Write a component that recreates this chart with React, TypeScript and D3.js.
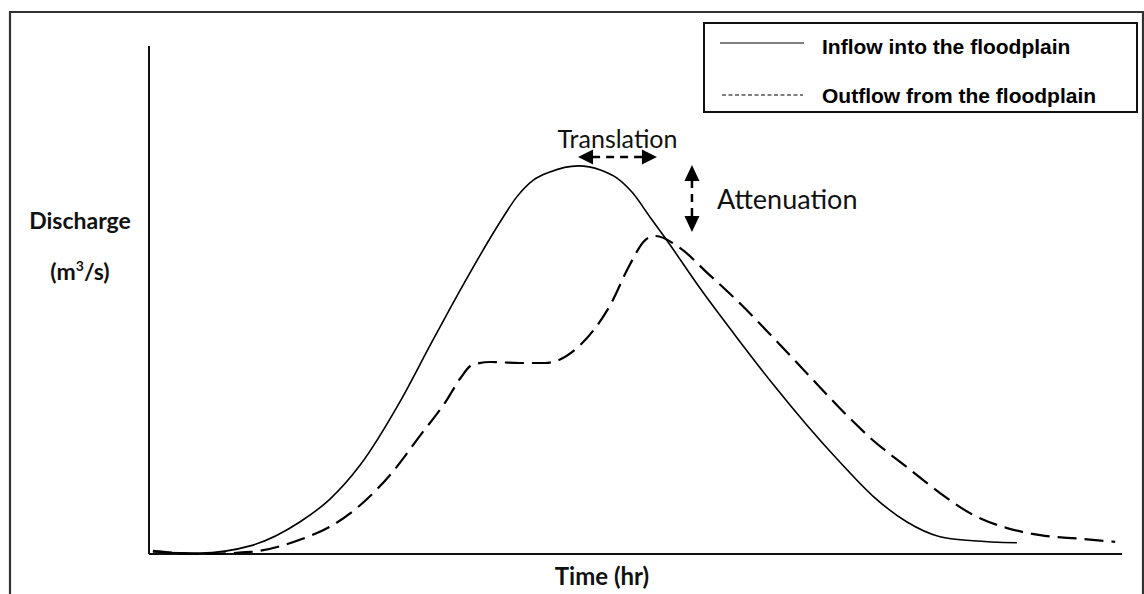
import React from 'react';
import * as d3 from 'd3';

// Inflow hydrograph (time in relative units, discharge in relative units)
const inflowTime = [0.4, 5.2, 10.4, 15.5, 18.6, 21.7, 25.8, 28.9, 32.0, 36.1, 37.8, 39.5, 41.2, 44.1, 46.4, 48.1, 49.7, 51.5, 53.2, 56.6, 60.7, 64.1, 67.6, 71.0, 74.4, 77.9, 81.3, 84.7, 89.2];
const inflowQ = [0.4, 0.2, 1.6, 6.3, 10.8, 17.5, 30.0, 41.1, 52.0, 65.4, 70.3, 73.6, 75.2, 76.4, 75.6, 74.0, 71.1, 66.3, 61.8, 52.4, 41.9, 33.5, 25.4, 18.1, 11.4, 6.3, 3.4, 2.6, 2.2];

// Outflow hydrograph
const outflowTime = [0.4, 5.2, 10.4, 15.5, 18.9, 21.7, 24.8, 27.9, 30.6, 32.0, 33.2, 35.1, 38.1, 40.7, 44.3, 47.4, 49.4, 51.0, 52.0, 54.6, 57.4, 60.7, 64.1, 67.6, 71.0, 74.4, 77.9, 81.3, 84.7, 88.2, 91.6, 95.7, 99.3];
const outflowQ = [0.6, 0.0, 0.4, 2.8, 5.7, 9.6, 15.6, 23.4, 30.3, 34.6, 37.2, 37.8, 37.6, 37.6, 41.1, 49.0, 56.9, 61.8, 62.6, 60.2, 55.3, 49.4, 42.7, 35.6, 28.7, 22.4, 17.1, 12.0, 7.7, 5.1, 3.7, 3.0, 2.4];

const legendLabels = ['Inflow into the floodplain', 'Outflow from the floodplain'];
const annotationLabels = ['Translation', 'Attenuation'];
const axisLabels = ['Discharge', 'Time (hr)'];

const W = 1144;
const H = 594;

function arrowHead(tx: number, ty: number, dir: 'left' | 'right' | 'up' | 'down', len = 15, half = 7.5) {
  let pts: [number, number][];
  if (dir === 'left') pts = [[tx, ty], [tx + len, ty - half], [tx + len, ty + half]];
  else if (dir === 'right') pts = [[tx, ty], [tx - len, ty - half], [tx - len, ty + half]];
  else if (dir === 'up') pts = [[tx, ty], [tx - half, ty + len], [tx + half, ty + len]];
  else pts = [[tx, ty], [tx - half, ty - len], [tx + half, ty - len]];
  return pts.map((p) => p.join(',')).join(' ');
}

export default function App() {
  const x = d3.scaleLinear().domain([0, 100]).range([149, 1122]);
  const y = d3.scaleLinear().domain([0, 100]).range([554, 46]);

  const line = d3
    .line<[number, number]>()
    .x((d) => x(d[0]))
    .y((d) => y(d[1]))
    .curve(d3.curveMonotoneX);

  const inflow: [number, number][] = inflowTime.map((t, i) => [t, inflowQ[i]]);
  const outflow: [number, number][] = outflowTime.map((t, i) => [t, outflowQ[i]]);

  const inPeakI = d3.maxIndex(inflowQ);
  const outPeakI = d3.maxIndex(outflowQ);
  const inPeakX = x(inflowTime[inPeakI]);
  const inPeakY = y(inflowQ[inPeakI]);
  const outPeakX = x(outflowTime[outPeakI]);
  const outPeakY = y(outflowQ[outPeakI]);

  // translation arrow
  const trY = inPeakY - 9;
  const trX1 = inPeakX;
  const trX2 = outPeakX + 2;
  // attenuation arrow
  const atX = outPeakX + 37;
  const atY1 = inPeakY - 1;
  const atY2 = outPeakY - 4;

  const calibri = "Lato, 'Open Sans', sans-serif";
  const arial = "'Liberation Sans', Arial, sans-serif";

  return (
    <svg
      width={W}
      height={H}
      viewBox={`0 0 ${W} ${H}`}
      style={{ position: 'absolute', left: 0, top: 0, background: '#fff' }}
    >
      <rect x={0} y={0} width={W} height={H} fill="#fff" />
      {/* outer frame (open at bottom) */}
      <path d={`M10,${H + 5} L10,12 L1143,12 L1143,${H + 5}`} fill="none" stroke="#333" strokeWidth={2.2} />

      {/* axes */}
      <line x1={x(0)} y1={y(100)} x2={x(0)} y2={y(0)} stroke="#111" strokeWidth={2} />
      <line x1={x(0)} y1={y(0)} x2={x(100)} y2={y(0)} stroke="#111" strokeWidth={2} />

      {/* curves */}
      <path d={line(inflow) || ''} fill="none" stroke="#000" strokeWidth={1.6} />
      <path d={line(outflow) || ''} fill="none" stroke="#000" strokeWidth={2.2} strokeDasharray="19 8" />

      {/* translation arrow */}
      <line x1={trX1 + 14} y1={trY} x2={trX2 - 14} y2={trY} stroke="#000" strokeWidth={2.5} strokeDasharray="8 6" />
      <polygon points={arrowHead(trX1, trY, 'left')} fill="#000" />
      <polygon points={arrowHead(trX2, trY, 'right')} fill="#000" />
      <text x={(trX1 + trX2) / 2} y={trY - 9} fontFamily={calibri} fontSize={25} textAnchor="middle" fill="#111">
        {annotationLabels[0]}
      </text>

      {/* attenuation arrow */}
      <line x1={atX} y1={atY1 + 15} x2={atX} y2={atY2 - 15} stroke="#000" strokeWidth={2.5} strokeDasharray="8 6" />
      <polygon points={arrowHead(atX, atY1, 'up', 16, 7.5)} fill="#000" />
      <polygon points={arrowHead(atX, atY2, 'down', 16, 7.5)} fill="#000" />
      <text x={717} y={209} fontFamily={calibri} fontSize={27} fill="#111">
        {annotationLabels[1]}
      </text>

      {/* axis labels */}
      <text x={80} y={229} fontFamily={calibri} fontSize={23} fontWeight="bold" textAnchor="middle" fill="#111">
        {axisLabels[0]}
      </text>
      <text x={80} y={280} fontFamily={calibri} fontSize={23} fontWeight="bold" textAnchor="middle" fill="#111">
        (m<tspan dy={-9} fontSize={14}>3</tspan>
        <tspan dy={9}>/s)</tspan>
      </text>
      <text x={602} y={585} fontFamily={calibri} fontSize={24} fontWeight="bold" textAnchor="middle" fill="#111">
        {axisLabels[1]}
      </text>

      {/* legend */}
      <rect x={704} y={23} width={433} height={89} fill="#fff" stroke="#111" strokeWidth={2} />
      <line x1={720} y1={43} x2={804} y2={43} stroke="#000" strokeWidth={1.2} />
      <line x1={722} y1={95} x2={803} y2={95} stroke="#000" strokeWidth={1.2} strokeDasharray="4 2.5" />
      <text x={822} y={54} fontFamily={arial} fontSize={21} fontWeight="bold" fill="#000">
        {legendLabels[0]}
      </text>
      <text x={822} y={103} fontFamily={arial} fontSize={21} fontWeight="bold" fill="#000">
        {legendLabels[1]}
      </text>
    </svg>
  );
}
